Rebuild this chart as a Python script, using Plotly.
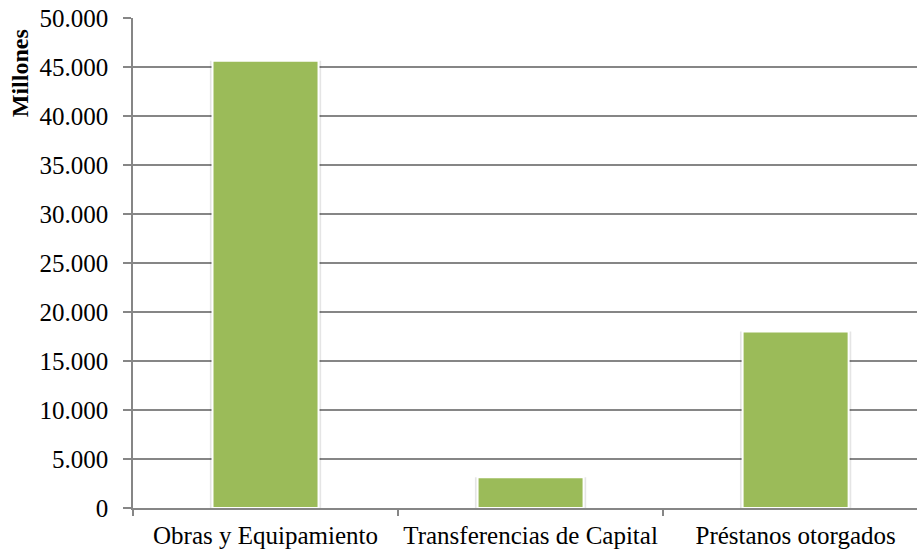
import plotly.graph_objects as go

categories = ["Obras y Equipamiento", "Transferencias de Capital", "Préstanos otorgados"]
values = [45650, 3150, 18000]
y_ticks = [0, 5000, 10000, 15000, 20000, 25000, 30000, 35000, 40000, 45000, 50000]

FONT = "Liberation Serif, Times New Roman, serif"
FS = 25

fig = go.Figure()
# soft shadow behind bars
fig.add_trace(go.Bar(
    x=categories, y=values, width=0.42,
    marker=dict(color="rgba(0,0,0,0.10)", line=dict(width=0)),
    hoverinfo="skip", showlegend=False,
))
fig.add_trace(go.Bar(
    x=categories, y=values, width=0.40,
    marker=dict(color="#9BBB59", line=dict(color="white", width=2)),
    showlegend=False,
))

fig.update_layout(
    width=917, height=556,
    margin=dict(l=133, r=0, t=18, b=48, autoexpand=False),
    paper_bgcolor="white", plot_bgcolor="white",
    barmode="overlay",
    separators=",.",
    font=dict(family=FONT, size=FS, color="black"),
    xaxis=dict(
        type="category",
        range=[-0.5, 2.458],
        showgrid=False,
        showline=True, linecolor="#868686", linewidth=1.5,
        ticks="outside", tickson="boundaries", ticklen=6, tickcolor="#868686", tickwidth=1.5,
        ticklabelstandoff=4,
        tickfont=dict(family=FONT, size=FS, color="black"),
        automargin=False,
        fixedrange=True,
    ),
    yaxis=dict(
        range=[0, 50000],
        tickvals=y_ticks,
        tickformat=",d",
        showgrid=True, gridcolor="#868686", gridwidth=1.5,
        showline=True, linecolor="#868686", linewidth=1.5,
        ticks="outside", ticklen=8, tickcolor="#868686", tickwidth=1.5,
        ticklabelstandoff=10,
        tickfont=dict(family=FONT, size=FS, color="black"),
        zeroline=False,
        automargin=False,
    ),
    annotations=[dict(
        text="<b>Millones</b>", textangle=-90,
        xref="paper", yref="paper", x=-0.164, y=0.982,
        xanchor="left", yanchor="top", showarrow=False,
        font=dict(family=FONT, size=24, color="black"),
    )],
)

fig.write_html(
    "out.html",
    config={"displayModeBar": False},
    post_script="document.body.style.margin='0';document.body.style.padding='0';",
)
